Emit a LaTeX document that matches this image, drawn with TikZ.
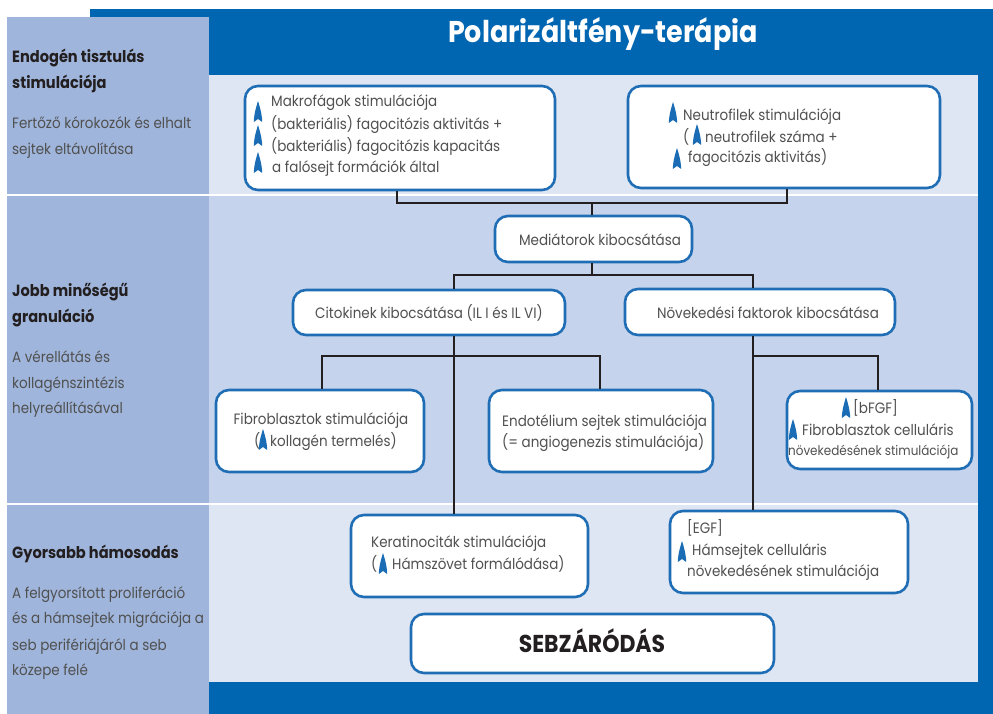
\documentclass[tikz,border=0pt]{standalone}
\usepackage{fontspec}
\setmainfont{Poppins}[FakeStretch=0.9]
\definecolor{frameblue}{HTML}{0066B1}
\definecolor{sidebar}{HTML}{9FB5DB}
\definecolor{lightA}{HTML}{DEE5F3}
\definecolor{lightB}{HTML}{C5D3EC}
\definecolor{boxblue}{HTML}{1F6DB5}
\definecolor{arrowblue}{HTML}{1A6CB5}
\definecolor{txtgray}{HTML}{505050}
\definecolor{headdark}{HTML}{231F20}
\newcommand\bodyf{\fontsize{15}{18}\selectfont}
\newcommand\sidef{\fontsize{15}{18}\selectfont}
\newcommand\sidebf{\fontsize{16.2}{19}\selectfont\bfseries}
\tikzset{
  box/.style={draw=boxblue, line width=2.6pt, fill=white, rounded corners=13pt, inner sep=0pt},
  conn/.style={draw=headdark, line width=2pt},
  tb/.style={inner sep=0pt, anchor=base west, font=\bodyf, text=txtgray},
  tc/.style={inner sep=0pt, anchor=base, font=\bodyf, text=txtgray},
  sidet/.style={inner sep=0pt, anchor=base west, font=\sidef, text=txtgray},
  sideh/.style={inner sep=0pt, anchor=base west, font=\sidebf, text=headdark},
  uparr/.pic={\fill[arrowblue] (-4.2,0) .. controls (-4,-8) and (-1.6,-16) .. (0,-21) .. controls (1.6,-16) and (4,-8) .. (4.2,0) -- (0,-3) -- cycle;}
}
\begin{document}
\begin{tikzpicture}[x=1pt,y=-1pt]
\useasboundingbox (0,0) rectangle (993,714);
\fill[white] (0,0) rectangle (993,714);
% frame and bands
\fill[frameblue] (90,9) rectangle (993,714);
\fill[sidebar] (7,17) rectangle (209,714);
\fill[lightA] (209,75) rectangle (978,195);
\fill[lightB] (209,195) rectangle (978,504);
\fill[lightA] (209,504) rectangle (978,682);
\draw[white, line width=1.5pt] (7,195) -- (978,195);
\draw[white, line width=1.5pt] (7,504) -- (978,504);

% title
\node[inner sep=0pt, anchor=base, font=\fontsize{30}{33}\selectfont\bfseries, text=white] (title) at (603,43) {Polarizáltfény-terápia};

% sidebar texts
\node[sideh] (s1a) at (12,63) {Endogén tisztulás};
\node[sideh] (s1b) at (12,89) {stimulációja};
\node[sidet] (s1c) at (12,129) {Fertőző kórokozók és elhalt};
\node[sidet] (s1d) at (12,155) {sejtek eltávolítása};
\node[sideh] (s2a) at (12,296) {Jobb minőségű};
\node[sideh] (s2b) at (12,322) {granuláció};
\node[sidet] (s2c) at (12,362) {A vérellátás és};
\node[sidet] (s2d) at (12,388) {kollagénszintézis};
\node[sidet] (s2e) at (12,413) {helyreállításával};
\node[sideh] (s3a) at (12,558) {Gyorsabb hámosodás};
\node[sidet] (s3b) at (12,598) {A felgyorsított proliferáció};
\node[sidet] (s3c) at (12,623) {és a hámsejtek migrációja a};
\node[sidet] (s3d) at (12,650) {seb perifériájáról a seb};
\node[sidet] (s3e) at (12,675) {közepe felé};

% boxes
\node[box, minimum width=310pt, minimum height=104pt] (macro) at (400,138) {};
\node[box, minimum width=312pt, minimum height=102pt] (neutro) at (784,137) {};
\node[box, minimum width=197pt, minimum height=46pt] (med) at (593.5,239) {};
\node[box, minimum width=272pt, minimum height=45pt] (cito) at (429,312.5) {};
\node[box, minimum width=270pt, minimum height=46pt] (novo) at (760,312) {};
\node[box, minimum width=208pt, minimum height=82pt] (fibro) at (320,431) {};
\node[box, minimum width=224pt, minimum height=82pt] (endo) at (601,431) {};
\node[box, minimum width=185pt, minimum height=78pt] (bfgf) at (879.5,430) {};
\node[box, minimum width=237pt, minimum height=82pt] (kera) at (469.5,556) {};
\node[box, minimum width=238pt, minimum height=82pt] (egf) at (789,552) {};
\node[box, minimum width=363pt, minimum height=59pt] (seb) at (592.5,643.5) {};

% connectors
\coordinate (v1) at (397,203);
\coordinate (v2) at (787,203);
\coordinate (j1) at (592,203);
\coordinate (j2) at (592,275);
\coordinate (c1) at (454,275);
\coordinate (c2) at (753,275);
\coordinate (c3) at (322,356);
\coordinate (c4) at (600,356);
\coordinate (c6) at (753,356);
\coordinate (c7) at (878,356);
\draw[conn] (macro.south -| v1) -- (v1) -- (v2) -- (neutro.south -| v2);
\draw[conn] (j1) -- (med.north -| j1);
\draw[conn] (med.south -| j2) -- (j2);
\draw[conn] (cito.north -| c1) -- (c1) -- (c2) -- (novo.north -| c2);
\draw[conn] (cito.south -| c1) -- (kera.north -| c1);
\draw[conn] (fibro.north -| c3) -- (c3) -- (c4) -- (endo.north -| c4);
\draw[conn] (novo.south -| c2) -- (egf.north -| c2);
\draw[conn] (c6) -- (c7) -- (bfgf.north -| c7);

% macro text
\node[tb] (m1) at (271,107) {Makrofágok stimulációja};
\node[tb] (m2) at (271,130) {(bakteriális) fagocitózis aktivitás +};
\node[tb] (m3) at (271,152) {(bakteriális) fagocitózis kapacitás};
\node[tb] (m4) at (272,173) {a falósejt formációk által};
\pic at (258,122) {uparr};
\pic at (258,146) {uparr};
\pic at (258,173) {uparr};

% neutro text
\node[tb] (n1) at (683,121) {Neutrofilek stimulációja};
\node[tb] (n2a) at (683,143) {(};
\node[tb] (n2b) at (705,143) {neutrofilek száma +};
\node[tb] (n3) at (688,163) {fagocitózis aktivitás)};
\pic at (673,123) {uparr};
\pic at (697,145) {uparr};
\pic at (677,169) {uparr};

% mediators
\node[tc] (medt) at (600,245) {Mediátorok kibocsátása};
\node[tc] (citot) at (429,318) {Citokinek kibocsátása (IL I és IL VI)};
\node[tc] (novot) at (768,318) {Növekedési faktorok kibocsátása};

% fibro
\node[tc] (f1) at (321,424) {Fibroblasztok stimulációja};
\node[tb] (f2a) at (254,446) {(};
\node[tb] (f2b) at (270,446) {kollagén termelés)};
\pic at (263,450) {uparr};

% endo
\node[tb] (e1) at (502,426) {Endotélium sejtek stimulációja};
\node[tb] (e2) at (502,447) {(= angiogenezis stimulációja)};

% bfgf
\node[tb] (b1) at (853,413) {[bFGF]};
\node[tb] (b2) at (802,435) {Fibroblasztok celluláris};
\node[tb, font=\fontsize{13.3}{16}\selectfont] (b3) at (788,455) {növekedésének stimulációja};
\pic at (846,418) {uparr};
\pic at (793,440) {uparr};

% kera
\node[tb] (k1) at (371,547) {Keratinociták stimulációja};
\node[tb] (k2a) at (371,569) {(};
\node[tb] (k2b) at (392,569) {Hámszövet formálódása)};
\pic at (383,574) {uparr};

% egf
\node[tb] (g1) at (687,533) {[EGF]};
\node[tb] (g2) at (692,555) {Hámsejtek celluláris};
\node[tb] (g3) at (687,576) {növekedésének stimulációja};
\pic at (682,562) {uparr};

% seb
\node[inner sep=0pt, anchor=base, font=\fontsize{24.4}{27}\selectfont\bfseries, text=headdark] (sebt) at (592,652) {SEBZÁRÓDÁS};
\end{tikzpicture}
\end{document}
